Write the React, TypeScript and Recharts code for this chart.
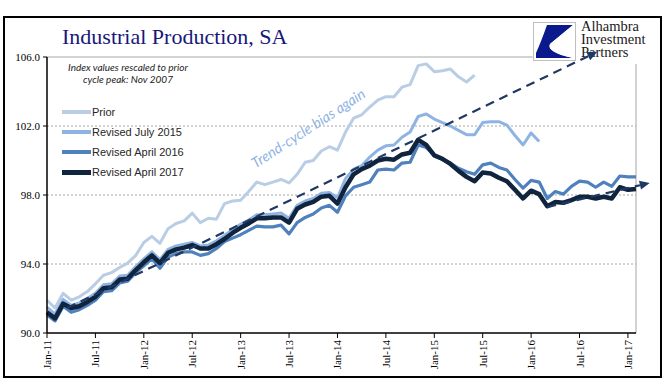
import React from "react";
import {
  LineChart,
  Line,
  XAxis,
  YAxis,
  CartesianGrid,
  ReferenceLine,
  Legend,
} from "recharts";

// month index 0 = Jan-11
const tickLabels = [
  "Jan-11", "Jul-11", "Jan-12", "Jul-12", "Jan-13", "Jul-13", "Jan-14",
  "Jul-14", "Jan-15", "Jul-15", "Jan-16", "Jul-16", "Jan-17",
];

const prior = [
  91.9, 91.45, 92.3, 91.9, 92.1, 92.4, 92.85, 93.35, 93.5, 93.8, 94.05, 94.5,
  95.25, 95.6, 95.2, 96.05, 96.35, 96.5, 96.95, 96.4, 96.65, 96.6, 97.5, 97.65,
  97.7, 98.2, 98.75, 98.6, 98.75, 98.9, 98.7, 99.2, 99.9, 100.0, 100.55, 100.8,
  100.6, 101.65, 102.45, 102.65, 103.1, 103.5, 103.7, 103.7, 104.25, 104.4, 105.5, 105.6,
  105.15, 105.2, 105.3, 104.85, 104.55, 104.95,
];

const revJul2015 = [
  91.5, 91.1, 91.95, 91.6, 91.75, 92.0, 92.3, 92.8, 92.85, 93.3, 93.35, 93.85,
  94.3, 94.7, 94.25, 94.85, 95.05, 95.15, 95.25, 95.05, 95.1, 95.35, 95.65, 96.0,
  96.3, 96.55, 96.85, 96.85, 96.9, 96.95, 96.65, 97.4, 97.65, 97.8, 98.1, 98.15,
  97.85, 98.95, 99.5, 99.7, 100.2, 100.6, 100.85, 100.9, 101.35, 101.65, 102.55, 102.7,
  102.4, 102.2, 102.0, 101.75, 101.5, 101.5, 102.2, 102.25, 102.25, 102.05, 101.45, 100.9,
  101.6, 101.1,
];

const revApr2016 = [
  91.05, 90.7, 91.55, 91.2, 91.35, 91.6, 91.9, 92.4, 92.45, 92.9, 93.0, 93.5,
  93.9, 94.3, 93.75, 94.4, 94.6, 94.7, 94.7, 94.5, 94.6, 94.9, 95.3, 95.5,
  95.7, 95.95, 96.2, 96.15, 96.15, 96.25, 95.75, 96.4, 96.7, 96.9, 97.25, 97.4,
  97.0, 97.95, 98.45, 98.6, 98.75, 99.45, 99.5, 99.45, 99.85, 99.9, 100.9, 100.75,
  100.3, 100.05, 99.85, 99.55, 99.35, 99.2, 99.75, 99.85, 99.6, 99.45, 98.9, 98.4,
  98.85, 98.75, 97.8, 98.2, 98.05, 98.5, 98.8, 98.75, 98.45, 98.75, 98.5, 99.1,
  99.05, 99.05,
];

const revApr2017 = [
  91.2, 90.85, 91.7, 91.45, 91.55, 91.8, 92.1, 92.6, 92.65, 93.1, 93.15, 93.65,
  94.1, 94.5, 94.05, 94.65, 94.85, 94.95, 95.1, 94.9, 94.9, 95.15, 95.45, 95.8,
  96.1, 96.35, 96.65, 96.65, 96.7, 96.7, 96.4, 97.2, 97.45, 97.6, 97.9, 97.95,
  97.5, 98.45, 99.2, 99.5, 99.7, 100.0, 100.1, 100.05, 100.35, 100.45, 101.2, 100.9,
  100.3, 100.1, 99.8, 99.4, 99.05, 98.8, 99.3, 99.25, 99.0, 98.8, 98.3, 97.8,
  98.25, 98.05, 97.35, 97.6, 97.55, 97.7, 97.9, 97.9, 97.8, 97.9, 97.8, 98.45,
  98.3, 98.35,
];

// dashed trend arrows: [month, value]
const trendLong = [[2.5, 91.45], [68.2, 106.3]];
const trendShort = [[62, 97.3], [74.7, 98.7]];

const series = [
  { key: "prior", name: "Prior", color: "#B9CDE5", width: 3 },
  { key: "jul15", name: "Revised July 2015", color: "#8EB4E3", width: 3 },
  { key: "apr16", name: "Revised April 2016", color: "#4F81BD", width: 3.2 },
  { key: "apr17", name: "Revised April 2017", color: "#10243E", width: 4.5 },
];

const data = revApr2017.map((v, i) => ({
  m: i,
  prior: prior[i] ?? null,
  jul15: revJul2015[i] ?? null,
  apr16: revApr2016[i] ?? null,
  apr17: v,
}));

const serif = "'Liberation Serif', 'Times New Roman', serif";
const sans = "'Liberation Sans', Arial, sans-serif";
const trendColor = "#1F3864";

const ArrowLine = (p: any) => {
  const { x1, y1, x2, y2 } = p;
  const ang = Math.atan2(y2 - y1, x2 - x1);
  const len = 10;
  const w = 4.5;
  const bx = x2 - len * Math.cos(ang);
  const by = y2 - len * Math.sin(ang);
  const px = -Math.sin(ang) * w;
  const py = Math.cos(ang) * w;
  return (
    <g>
      <line
        x1={x1}
        y1={y1}
        x2={bx}
        y2={by}
        stroke={trendColor}
        strokeWidth={2.2}
        strokeDasharray="9 6"
      />
      <polygon
        points={`${x2},${y2} ${bx + px},${by + py} ${bx - px},${by - py}`}
        fill={trendColor}
      />
    </g>
  );
};

const XTick = ({ x, y, payload }: any) => (
  <text
    x={x}
    y={y}
    transform={`rotate(-90 ${x} ${y})`}
    textAnchor="end"
    dominantBaseline="central"
    fontFamily={serif}
    fontSize={11}
    fill="#000"
  >
    {tickLabels[Math.round(payload.value / 6)]}
  </text>
);

const LegendBox = () => (
  <div style={{ fontFamily: sans, fontSize: 11, color: "#262626" }}>
    {series.map((s) => (
      <div
        key={s.key}
        style={{ display: "flex", alignItems: "center", height: 20 }}
      >
        <div
          style={{
            width: 29,
            height: s.width + 0.5,
            background: s.color,
            marginRight: 1,
          }}
        />
        <span>{s.name}</span>
      </div>
    ))}
  </div>
);

const Logo = () => (
  <div style={{ position: "absolute", left: 533, top: 22, zIndex: 1 }}>
    <svg width={44} height={40} style={{ display: "block", background: "#fff" }}>
      <rect x={0.5} y={0.5} width={42} height={38} fill="#fff" stroke="#BFBFBF" />
      <path d="M14 3 L40 3 L17 22 Q13 30 40 36 L3 36 L3 31 Q8 20 14 3 Z" fill="#0A1A8C" />
      <path d="M17 22 Q13 30 40 36 L40 3 Z" fill="#fff" />
    </svg>
    <div
      style={{
        position: "absolute",
        left: 48,
        top: -2,
        fontFamily: serif,
        fontSize: 14.5,
        lineHeight: "13px",
        color: "#1a1a1a",
        whiteSpace: "nowrap",
      }}
    >
      <div>Alhambra</div>
      <div>Investment</div>
      <div>Partners</div>
    </div>
  </div>
);

export default function App() {
  const ticks = tickLabels.map((_, i) => i * 6);
  return (
    <div
      style={{
        position: "absolute",
        left: 0,
        top: 0,
        width: 669,
        height: 392,
        background: "#fff",
        overflow: "hidden",
      }}
    >
      <div
        style={{
          position: "absolute",
          left: 3,
          top: 16,
          width: 659,
          height: 362,
          boxSizing: "border-box",
          border: "2px solid #000",
        }}
      />
      <Logo />
      <div
        style={{
          position: "absolute",
          left: 62,
          top: 24,
          fontFamily: serif,
          fontSize: 22,
          lineHeight: "26px",
          color: "#17177A",
          zIndex: 3,
          whiteSpace: "nowrap",
        }}
      >
        Industrial Production, SA
      </div>
      <div
        style={{
          position: "absolute",
          left: 58,
          top: 61,
          width: 140,
          textAlign: "center",
          fontFamily: "Lato, sans-serif",
          fontStyle: "italic",
          fontSize: 10,
          lineHeight: "12px",
          color: "#222",
          zIndex: 3,
        }}
      >
        Index values rescaled to prior
        <br />
        cycle peak: Nov 2007
      </div>
      <div
        style={{
          position: "absolute",
          left: 308,
          top: 128,
          transform: "translate(-50%, -50%) rotate(-33deg)",
          fontFamily: "Lato, sans-serif",
          fontStyle: "italic",
          fontSize: 14.5,
          color: "#8EB4E3",
          whiteSpace: "nowrap",
          zIndex: 3,
        }}
      >
        Trend-cycle bias again
      </div>
      <div style={{ position: "absolute", left: 0, top: 0, zIndex: 2 }}>
        <LineChart
          width={669}
          height={392}
          data={data}
          margin={{ top: 57, right: 33, bottom: 0, left: 0 }}
        >
          <CartesianGrid
            vertical={false}
            horizontalValues={[94, 98, 102]}
            stroke="#A6A6A6"
            strokeDasharray="2 2"
          />
          <XAxis
            dataKey="m"
            type="number"
            domain={[0, 73]}
            ticks={ticks}
            interval={0}
            height={59}
            tick={<XTick />}
            tickSize={5}
            tickMargin={2}
            axisLine={{ stroke: "#000", strokeWidth: 1.5 }}
            tickLine={{ stroke: "#000" }}
          />
          <YAxis
            domain={[90, 106]}
            ticks={[90, 94, 98, 102, 106]}
            width={47}
            tickFormatter={(v: number) => v.toFixed(1)}
            tick={{ fontFamily: serif, fontSize: 11, fill: "#000" }}
            tickSize={4}
            tickMargin={3}
            axisLine={{ stroke: "#000", strokeWidth: 1.5 }}
            tickLine={{ stroke: "#000" }}
          />
          <ReferenceLine
            segment={[
              { x: 0, y: 106 },
              { x: 60.2, y: 106 },
            ]}
            stroke="#A6A6A6"
            ifOverflow="visible"
          />
          <ReferenceLine
            segment={[
              { x: 73, y: 90 },
              { x: 73, y: 105.6 },
            ]}
            stroke="#A6A6A6"
            ifOverflow="visible"
          />
          {series.map((s) => (
            <Line
              key={s.key}
              type="linear"
              dataKey={s.key}
              name={s.name}
              stroke={s.color}
              strokeWidth={s.width}
              dot={false}
              activeDot={false}
              strokeLinejoin="round"
              isAnimationActive={false}
            />
          ))}
          <ReferenceLine
            segment={[
              { x: trendLong[0][0], y: trendLong[0][1] },
              { x: trendLong[1][0], y: trendLong[1][1] },
            ]}
            ifOverflow="visible"
            shape={<ArrowLine />}
          />
          <ReferenceLine
            segment={[
              { x: trendShort[0][0], y: trendShort[0][1] },
              { x: trendShort[1][0], y: trendShort[1][1] },
            ]}
            ifOverflow="visible"
            shape={<ArrowLine />}
          />
          <Legend
            layout="vertical"
            align="center"
            verticalAlign="middle"
            wrapperStyle={{ left: 62, top: 102, width: "auto" }}
            content={<LegendBox />}
          />
        </LineChart>
      </div>
    </div>
  );
}
